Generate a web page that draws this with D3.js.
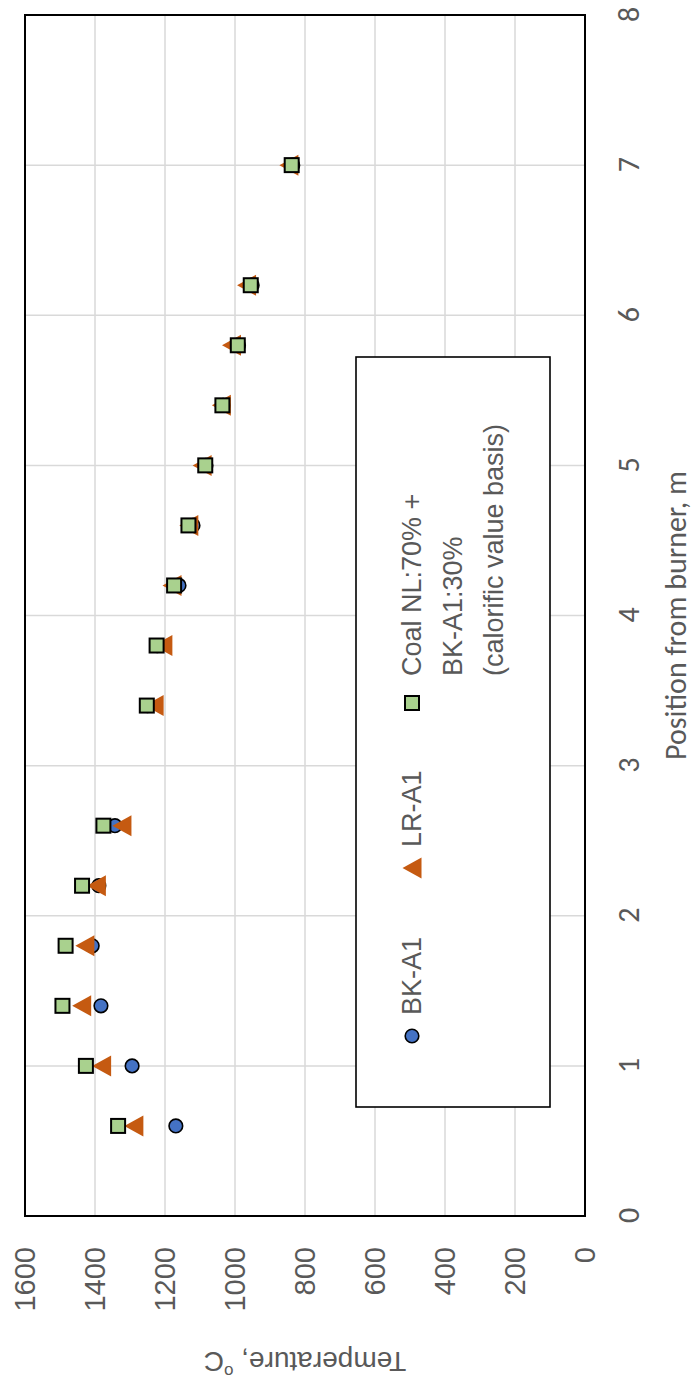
<!DOCTYPE html>
<html>
<head>
<meta charset="utf-8">
<script src="https://cdn.jsdelivr.net/npm/d3@7"></script>
<style>
  html, body { margin: 0; padding: 0; background: #fff; }
  svg { display: block; }
</style>
</head>
<body>
<script>
// Furnace temperature profiles along the burner axis
const positions = [0.6, 1.0, 1.4, 1.8, 2.2, 2.6, 3.4, 3.8, 4.2, 4.6, 5.0, 5.4, 5.8, 6.2, 7.0];
const bkA1 = [1169, 1294, 1383, 1408, 1389, 1343, 1250, 1222, 1160, 1120, 1083, 1034, 990, 951, 835];
const lrA1 = [1289, 1381, 1438, 1429, 1396, 1323, 1231, 1206, 1180, 1132, 1094, 1039, 1010, 967, 846];
const coalMix = [1334, 1426, 1493, 1484, 1437, 1376, 1252, 1224, 1174, 1133, 1085, 1036, 992, 955, 838];

const xTicks = [0, 1, 2, 3, 4, 5, 6, 7, 8];
const yTicks = [0, 200, 400, 600, 800, 1000, 1200, 1400, 1600];

const seriesNames = ["BK-A1", "LR-A1", "Coal NL:70% +|BK-A1:30%|(calorific value basis)"];

const W = 1383, H = 693;          // chart drawn landscape, then turned a quarter left
const margin = { left: 167, right: 15, top: 25, bottom: 108 };

const svg = d3.select("body").append("svg")
  .attr("width", H).attr("height", W);

const g = svg.append("g")
  .attr("transform", `translate(0,${W}) rotate(-90)`);

const x = d3.scaleLinear().domain([0, 8]).range([margin.left, W - margin.right]);
const y = d3.scaleLinear().domain([0, 1600]).range([H - margin.bottom, margin.top]);

const tickColor = "#595959";
const sansFont = "'Liberation Sans', Arial, sans-serif";
const calFont = "Calibri, Carlito, Lato, sans-serif";

// gridlines
g.append("g").selectAll("line.v")
  .data(xTicks.slice(1, -1)).join("line")
  .attr("x1", d => x(d)).attr("x2", d => x(d))
  .attr("y1", y(0)).attr("y2", y(1600))
  .attr("stroke", "#d9d9d9").attr("stroke-width", 1.5);
g.append("g").selectAll("line.h")
  .data(yTicks.slice(1, -1)).join("line")
  .attr("x1", x(0)).attr("x2", x(8))
  .attr("y1", d => y(d)).attr("y2", d => y(d))
  .attr("stroke", "#d9d9d9").attr("stroke-width", 1.5);

// plot frame
g.append("rect")
  .attr("x", x(0)).attr("y", y(1600))
  .attr("width", x(8) - x(0)).attr("height", y(0) - y(1600))
  .attr("fill", "none").attr("stroke", "#000").attr("stroke-width", 2);

// axes
const yAxis = g.append("g")
  .attr("transform", `translate(${x(0)},0)`)
  .call(d3.axisLeft(y).tickValues(yTicks).tickSize(0).tickPadding(31).tickFormat(d3.format("d")));
yAxis.select(".domain").remove();
yAxis.selectAll("text")
  .attr("font-family", sansFont).attr("font-size", 29).attr("fill", tickColor);

const xAxis = g.append("g")
  .attr("transform", `translate(0,${y(0)})`)
  .call(d3.axisBottom(x).tickValues(xTicks).tickSize(0).tickFormat(d3.format("d")));
xAxis.select(".domain").remove();
xAxis.selectAll("text")
  .attr("y", 43).attr("dy", null)
  .attr("dominant-baseline", "central")
  .attr("font-family", calFont).attr("font-size", 30).attr("fill", tickColor);

// axis titles
g.append("text")
  .attr("transform", `translate(21,${(y(0) + y(1600)) / 2}) rotate(-90)`)
  .attr("text-anchor", "middle").attr("dominant-baseline", "central")
  .attr("font-family", sansFont).attr("font-size", 28).attr("fill", tickColor)
  .call(t => {
    t.append("tspan").text("Temperature, ");
    t.append("tspan").text("o").attr("font-size", 17).attr("baseline-shift", "super");
    t.append("tspan").text("C");
  });

g.append("text")
  .attr("x", (x(0) + x(8)) / 2).attr("y", 675)
  .attr("text-anchor", "middle").attr("dominant-baseline", "central")
  .attr("font-family", calFont).attr("font-size", 30).attr("fill", tickColor)
  .text("Position from burner, m");

// marker shapes
const triPath = (w, h) => `M0,${-h / 2}L${w / 2},${h / 2}L${-w / 2},${h / 2}Z`;
const drawCircle = (sel) => sel.append("circle").attr("r", 6.8)
  .attr("fill", "#4472C4").attr("stroke", "#000").attr("stroke-width", 1.6);
const drawTriangle = (sel) => sel.append("path").attr("d", triPath(21, 19))
  .attr("fill", "#C55A11");
const drawSquare = (sel) => sel.append("rect").attr("x", -7).attr("y", -7)
  .attr("width", 14).attr("height", 14)
  .attr("fill", "#A9D18E").attr("stroke", "#000").attr("stroke-width", 2);

const drawers = [drawCircle, drawTriangle, drawSquare];
const seriesData = [bkA1, lrA1, coalMix];

seriesData.forEach((vals, i) => {
  g.append("g").selectAll("g")
    .data(positions.map((p, k) => [p, vals[k]]))
    .join("g")
    .attr("transform", d => `translate(${x(d[0])},${y(d[1])})`)
    .each(function () { drawers[i](d3.select(this)); });
});

// legend
const legend = g.append("g");
legend.append("rect")
  .attr("x", 276).attr("y", 356).attr("width", 750).attr("height", 194)
  .attr("fill", "#fff").attr("stroke", "#000").attr("stroke-width", 1.6);

const legendItems = [
  { mx: 347, tx: 368 },
  { mx: 515, tx: 536 },
  { mx: 680, tx: 707 }
];
legendItems.forEach((it, i) => {
  const mk = legend.append("g").attr("transform", `translate(${it.mx},412)`);
  drawers[i](mk);
  const lines = seriesNames[i].split("|");
  const t = legend.append("text")
    .attr("font-family", sansFont).attr("font-size", 27).attr("fill", tickColor);
  lines.forEach((ln, j) => {
    t.append("tspan").attr("x", it.tx).attr("y", 412 + j * 41)
      .attr("dominant-baseline", "central").text(ln);
  });
});
</script>
</body>
</html>
